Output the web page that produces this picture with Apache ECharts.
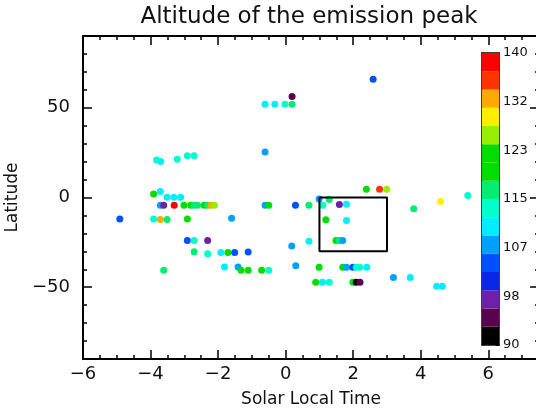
<!DOCTYPE html>
<html><head><meta charset="utf-8">
<script src="https://cdn.jsdelivr.net/npm/echarts@6/dist/echarts.min.js"></script>
<style>html,body{margin:0;padding:0;background:#fff}#c{width:536px;height:408px}</style>
</head><body><div id="c"></div>
<script>
// Solar local time (x), latitude (y), altitude of the emission peak (colour)
const solarTime = [
  0.19,-0.61,-0.32,-0.02,0.19,2.59,-0.61,-3.82,-3.70,-3.21,
  -2.91,-2.71,-3.91,-3.71,-3.51,-3.31,-3.11,-3.71,-3.61,-3.30,
  -3.01,-2.81,-2.71,-2.61,-2.41,-2.31,-2.21,-2.11,-0.61,-0.50,
  0.29,-4.91,-3.91,-3.71,-3.51,-2.91,-1.60,-2.91,-2.71,-2.31,
  -2.71,-2.31,-1.92,-1.71,-1.51,-1.11,0.18,-3.61,-1.81,-1.41,
  -1.32,-1.11,-0.71,-0.50,0.30,2.39,2.78,2.99,5.39,4.59,
  0.69,0.99,1.10,1.29,1.59,1.80,3.79,1.19,1.80,0.69,
  1.49,1.59,1.69,0.99,1.69,1.80,1.99,2.09,2.19,2.40,
  3.19,3.69,0.89,1.09,1.29,1.99,2.09,2.20,4.47,4.64
];
const latitude = [
  56.3,52,52,52,52,65.9,25.4,20.9,20,21.3,
  23.3,23.3,2.0,3.3,0.2,0.2,0.2,-4.3,-4.3,-4.3,
  -4.3,-4.3,-4.3,-4.3,-4.3,-4.3,-4.3,-4.3,-4.3,-4.3,
  -4.3,-12,-12,-12.2,-12.2,-12,-11.5,-23.9,-23.9,-23.9,
  -30.2,-31.3,-30.7,-30.7,-30.7,-30.4,-27,-40.5,-38.7,-38.7,
  -40.5,-40.5,-40.5,-40.5,-38.1,4.6,4.6,4.6,1.1,-2.2,
  -4.3,-0.9,-4.3,-1.1,-3.9,-3.7,-6.3,-12.4,-12.8,-24.4,
  -23.9,-23.9,-23.9,-38.9,-38.9,-38.9,-38.9,-38.9,-38.9,-38.9,
  -44.6,-44.6,-47.2,-47.2,-47.2,-47.2,-47.2,-47.2,-49.4,-49.4
];
const altitude = [
  95,110,110,113,116,104,107,113,110,113,
  113,113,120,110,110,110,110,107,98,138,
  120,120,117,117,120,117,132,126,107,120,
  104,104,113,132,117,120,107,104,113,98,
  118,114,110,120,104,103,107,118,109,106,
  119,119,120,113,107,120,135,126,113,129,
  117,107,114,117,98,110,116,120,111,110,
  120,117,107,119,120,107,103,114,114,110,
  107,110,119,110,114,120,91,95,110,110
];
// Rectangle (solar time 1..3, latitude -30..0)
const boxX = [1, 3, 3, 1, 1];
const boxY = [0, 0, -30, -30, 0];
// Colour bar
const cbColors = ['#000000','#5c0050','#7020a8','#0828e8','#0050ff','#00a0ff','#00eeff','#00ffcc',
                  '#00ee70','#00dd00','#00dd00','#99ee00','#ffee00','#ffaa00','#ff3300','#ff0000'];
const cbMin = 90, cbMax = 140;
const cbTickLabels = ['90','98','107','115','123','132','140'];
const yLabelValues = [-50, 0, 50];

const step = (cbMax - cbMin) / cbColors.length;
const labStep = (cbMax - cbMin) / (cbTickLabels.length - 1);
const cbLabelPos = cbTickLabels.map((_, i) => cbMin + i * labStep);
const cbTickPos = [];
for (let i = 0; i <= (cbTickLabels.length - 1) * 2; i++) cbTickPos.push(cbMin + i * labStep / 2);

const pts = solarTime.map((x, i) => [x, latitude[i], altitude[i]]);
const boxData = boxX.map((x, i) => [x, boxY[i]]);
const cbData = cbColors.map((c, i) => [cbMin + i * step, cbMin + (i + 1) * step, i]);

const FONT = 'DejaVu Sans';
const TXT = '#111';
const minus = v => String(v).replace('-', '\u2212');
const line2 = {show: true, onZero: false, lineStyle: {color: '#000', width: 2}};
const noLine = {show: false, onZero: false};
const tick = (len, w, extra) => Object.assign({inside: true, length: len, lineStyle: {color: '#000', width: w}}, extra || {});

const chart = echarts.init(document.getElementById('c'), null, {renderer: 'canvas'});
chart.setOption({
  animation: false,
  backgroundColor: '#fff',
  graphic: [{
    type: 'text', x: 309, y: 6,
    style: {text: 'Altitude of the emission peak', fill: TXT, textAlign: 'center',
            font: '23px "DejaVu Sans"'}
  }],
  grid: [
    {left: 83, top: 36, right: -3, bottom: 49, containLabel: false, outerBoundsMode: 'none'},
    {left: 482, top: 53, width: 17, height: 292, containLabel: false, outerBoundsMode: 'none'}
  ],
  visualMap: {
    type: 'piecewise', show: false, seriesIndex: 0, dimension: 2,
    pieces: cbColors.map((c, i) => i === cbColors.length - 1
      ? {gte: cbMin + i * step, lte: cbMax + 100, color: c}
      : {gte: cbMin + i * step - (i === 0 ? 100 : 0), lt: cbMin + (i + 1) * step, color: c})
  },
  xAxis: [
    {gridIndex: 0, type: 'value', position: 'bottom', min: -6, max: 7.5, interval: 2,
     axisLine: line2, axisTick: tick(9, 1.5),
     axisLabel: {formatter: minus, fontSize: 18, fontFamily: FONT, color: TXT, margin: 6, showMaxLabel: false},
     splitLine: {show: false},
     name: 'Solar Local Time', nameLocation: 'middle', nameGap: 32,
     nameTextStyle: {fontSize: 17, fontFamily: FONT, color: TXT}},
    {gridIndex: 0, type: 'value', position: 'bottom', min: -6, max: 7.5, interval: 0.5,
     axisLine: noLine, axisTick: tick(4, 1.5), axisLabel: {show: false}, splitLine: {show: false}},
    {gridIndex: 0, type: 'value', position: 'top', min: -6, max: 7.5, interval: 2,
     axisLine: line2, axisTick: tick(9, 1.5), axisLabel: {show: false}, splitLine: {show: false}},
    {gridIndex: 0, type: 'value', position: 'top', min: -6, max: 7.5, interval: 0.5,
     axisLine: noLine, axisTick: tick(4, 1.5), axisLabel: {show: false}, splitLine: {show: false}},
    {gridIndex: 1, type: 'value', position: 'bottom', min: 0, max: 1,
     axisLine: {show: true, onZero: false, lineStyle: {color: '#000', width: 1.5}},
     axisTick: {show: false}, axisLabel: {show: false}, splitLine: {show: false}},
    {gridIndex: 1, type: 'value', position: 'top', min: 0, max: 1,
     axisLine: {show: true, onZero: false, lineStyle: {color: '#000', width: 1.5}},
     axisTick: {show: false}, axisLabel: {show: false}, splitLine: {show: false}}
  ],
  yAxis: [
    {gridIndex: 0, type: 'value', position: 'left', min: -90, max: 90, interval: 10,
     axisLine: line2, axisTick: tick(9, 1.5, {customValues: yLabelValues}),
     axisLabel: {customValues: yLabelValues, formatter: minus, fontSize: 18, fontFamily: FONT, color: TXT, margin: 13},
     splitLine: {show: false},
     name: 'Latitude', nameLocation: 'middle', nameGap: 54,
     nameTextStyle: {fontSize: 17, fontFamily: FONT, color: TXT}},
    {gridIndex: 0, type: 'value', position: 'left', min: -90, max: 90, interval: 10,
     axisLine: noLine, axisTick: tick(4, 1.5), axisLabel: {show: false}, splitLine: {show: false}},
    {gridIndex: 0, type: 'value', position: 'right', min: -90, max: 90, interval: 10,
     axisLine: line2, axisTick: tick(9, 1.5, {customValues: yLabelValues}),
     axisLabel: {show: false}, splitLine: {show: false}},
    {gridIndex: 0, type: 'value', position: 'right', min: -90, max: 90, interval: 10,
     axisLine: noLine, axisTick: tick(4, 1.5), axisLabel: {show: false}, splitLine: {show: false}},
    {gridIndex: 1, type: 'value', position: 'left', min: cbMin, max: cbMax,
     axisLine: {show: true, onZero: false, lineStyle: {color: '#000', width: 1.5}},
     axisTick: {show: false}, axisLabel: {show: false}, splitLine: {show: false}},
    {gridIndex: 1, type: 'value', position: 'right', min: cbMin, max: cbMax,
     axisLine: {show: true, onZero: false, lineStyle: {color: '#000', width: 1.5}},
     axisTick: tick(3, 1, {customValues: cbTickPos}),
     axisLabel: {customValues: cbLabelPos, margin: 4, fontSize: 13, fontFamily: FONT, color: TXT,
                 formatter: v => cbTickLabels[Math.round((v - cbMin) / labStep)]},
     splitLine: {show: false}}
  ],
  series: [
    {type: 'scatter', xAxisIndex: 0, yAxisIndex: 0, data: pts, symbol: 'circle', symbolSize: 7,
     itemStyle: {opacity: 1}, z: 3},
    {type: 'line', xAxisIndex: 0, yAxisIndex: 0, data: boxData, symbol: 'none', silent: true,
     lineStyle: {color: '#000', width: 2}, z: 4},
    {type: 'custom', xAxisIndex: 4, yAxisIndex: 4, data: cbData, z: 5, silent: true,
     renderItem: function (params, api) {
       const p0 = api.coord([0, api.value(1)]);
       const p1 = api.coord([1, api.value(0)]);
       return {type: 'rect', shape: {x: p0[0], y: p0[1], width: p1[0] - p0[0], height: p1[1] - p0[1]},
               style: {fill: cbColors[api.value(2)]}};
     }}
  ]
});
</script></body></html>
